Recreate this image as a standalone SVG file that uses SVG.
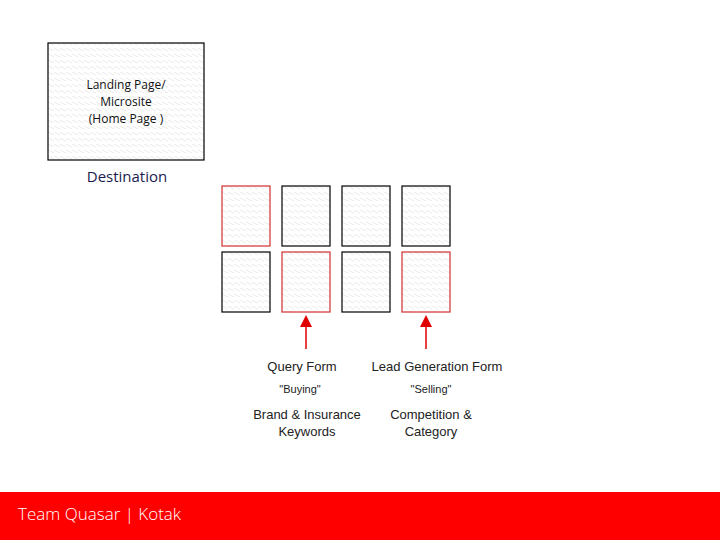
<svg xmlns="http://www.w3.org/2000/svg" width="720" height="540" viewBox="0 0 720 540">
<defs>
<pattern id="h" width="6" height="6" patternUnits="userSpaceOnUse"><rect width="6" height="6" fill="#fff"/><path d="M0,0 L6,3" stroke="#e4e4e4" stroke-width="0.8"/></pattern>
<marker id="a" markerWidth="8" markerHeight="8" refX="4" refY="4" orient="auto"><path d="M0,0 L8,4 L0,8 Z" fill="#e00000"/></marker>
</defs>
<style>
.b{fill:url(#h);stroke:#000;stroke-width:1.2}
.r{fill:url(#h);stroke:#d03030;stroke-width:1.2}
.t{font-family:"Liberation Sans",Arial,sans-serif;font-size:13px;fill:#222;text-anchor:middle}
.s{font-family:"Liberation Sans",Arial,sans-serif;font-size:11px;fill:#222;text-anchor:middle}
.c{font-family:"Open Sans","DejaVu Sans",sans-serif;font-size:12px;fill:#111;text-anchor:middle}
</style>
<rect width="720" height="540" fill="#fff"/>
<g id="landing">
<rect x="48" y="43" width="156" height="117" class="b"/>
<text class="c" x="126" y="89">Landing Page/</text>
<text class="c" x="126" y="106">Microsite</text>
<text class="c" x="126" y="123">(Home Page )</text>
</g>
<text id="destination" x="127" y="182" font-family="'Open Sans','DejaVu Sans',sans-serif" font-size="15" fill="#1a1a50" text-anchor="middle">Destination</text>
<g id="grid">
<rect x="222" y="186" width="48" height="60" class="r"/>
<rect x="282" y="186" width="48" height="60" class="b"/>
<rect x="342" y="186" width="48" height="60" class="b"/>
<rect x="402" y="186" width="48" height="60" class="b"/>
<rect x="222" y="252" width="48" height="60" class="b"/>
<rect x="282" y="252" width="48" height="60" class="r"/>
<rect x="342" y="252" width="48" height="60" class="b"/>
<rect x="402" y="252" width="48" height="60" class="r"/>
</g>
<g id="connectors" stroke="#e00000" stroke-width="1.5">
<line x1="306" y1="349" x2="306" y2="321" marker-end="url(#a)"/>
<line x1="426" y1="349" x2="426" y2="321" marker-end="url(#a)"/>
</g>
<g id="labels">
<text class="t" x="302" y="371">Query Form</text>
<text class="t" x="437" y="371">Lead Generation Form</text>
<text class="s" x="300" y="393">"Buying"</text>
<text class="s" x="431" y="393">"Selling"</text>
<text class="t" x="307" y="419">Brand  &amp; Insurance</text>
<text class="t" x="307" y="436">Keywords</text>
<text class="t" x="431" y="419">Competition &amp;</text>
<text class="t" x="431" y="436">Category</text>
</g>
<g id="footer">
<rect x="0" y="492" width="720" height="48" fill="#ff0000"/>
<text x="18" y="520" font-family="'Open Sans','DejaVu Sans',sans-serif" font-weight="300" font-size="17" fill="#fff">Team Quasar | Kotak</text>
</g>
</svg>
